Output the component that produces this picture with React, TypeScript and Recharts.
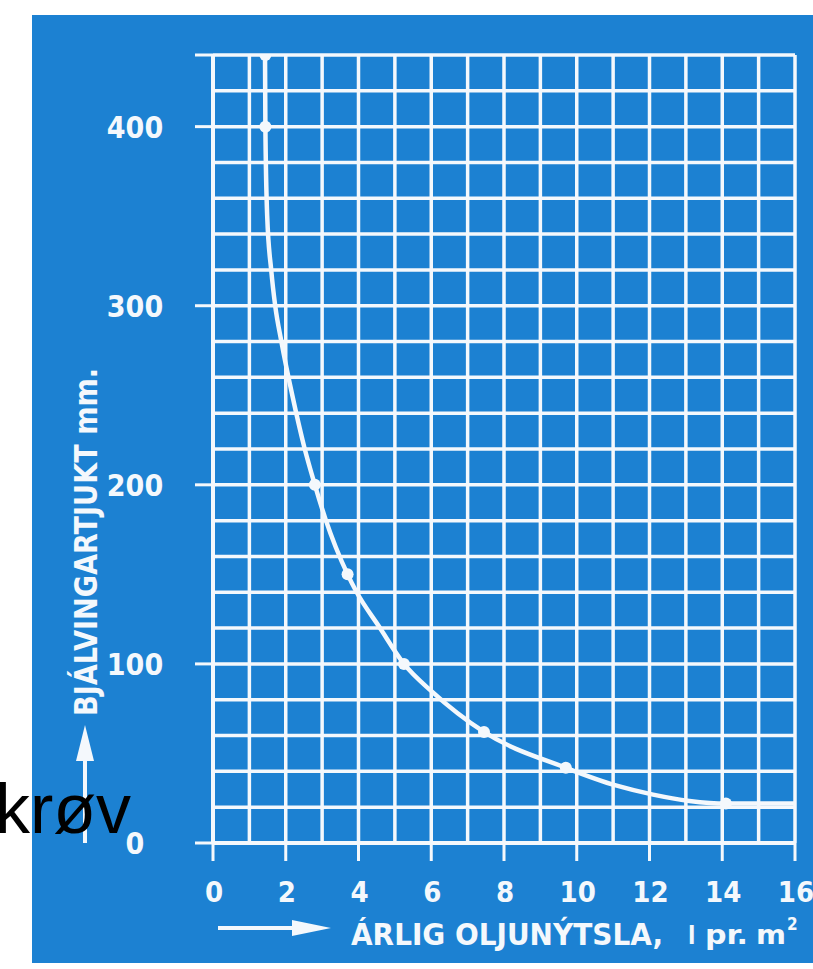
import React from 'react';
import { ComposedChart, Line, Scatter, XAxis, YAxis, CartesianGrid } from 'recharts';

// Curve (x: annual oil use l/m², y: insulation thickness mm)
const curveX = [1.43, 1.44, 1.49, 1.6, 1.71, 1.88, 2.18, 2.51, 2.8, 3.09, 3.7, 3.95, 4.56, 5.25, 6.02, 7.45, 9.7, 11.1, 12.1, 13.1, 14.1, 16.0];
const curveY = [440, 400, 350, 320, 300, 280, 250, 221, 200, 181, 150, 140, 121, 100, 84.5, 62, 42, 32, 27, 23.5, 22, 22];

// Marked points on the curve
const markerX = [1.44, 1.44, 2.8, 3.7, 5.25, 7.45, 9.7, 14.1];
const markerY = [440, 400, 200, 150, 100, 62, 42, 22];

// Axis ticks and grid values
const xTicks = [0, 2, 4, 6, 8, 10, 12, 14, 16];
const yTicks = [0, 100, 200, 300, 400, 440];
const yLabelled = [0, 100, 200, 300, 400];
const xGrid = [0, 1, 2, 3, 4, 5, 6, 7, 8, 9, 10, 11, 12, 13, 14, 15, 16];
const yGrid = [0, 20, 40, 60, 80, 100, 120, 140, 160, 180, 200, 220, 240, 260, 280, 300, 320, 340, 360, 380, 400, 420, 440];

const yTitle = 'BJÁLVINGARTJUKT mm.';
const xTitle = 'ÁRLIG OLJUNÝTSLA,';
const xUnitL = 'l';
const xUnitPr = 'pr.';
const xUnitM = 'm';
const xUnitSup = '2';
const sideText = 'krøv';

const curveData = curveX.map((x, i) => ({ x, y: curveY[i] }));
const markerData = markerX.map((x, i) => ({ x, y: markerY[i] }));

const BLUE = '#1c81d2';
const WHITE = '#f4f8fc';
const FONT = '"DejaVu Sans Condensed", "Liberation Sans Narrow", "DejaVu Sans", sans-serif';

const YTick = (props: any) => {
  const { y, payload } = props;
  if (!yLabelled.includes(payload.value)) return <g />;
  return (
    <text x={135} y={y} dy={11} textAnchor="middle" fill={WHITE} fontFamily={FONT} fontWeight="bold" fontSize={30}>
      {payload.value}
    </text>
  );
};

const XTick = (props: any) => {
  const { x, payload } = props;
  return (
    <text x={x + 1} y={902} textAnchor="middle" fill={WHITE} fontFamily={FONT} fontWeight="bold" fontSize={29}>
      {payload.value}
    </text>
  );
};

export default function App() {
  return (
    <div style={{ position: 'absolute', left: 0, top: 0, width: 813, height: 969, background: '#ffffff', overflow: 'hidden' }}>
      <div style={{ position: 'absolute', left: 32, top: 15, width: 781, height: 948, background: BLUE }} />
      <div style={{ position: 'absolute', left: 0, top: 0 }}>
        <ComposedChart width={813} height={969} margin={{ top: 55, right: 18, bottom: 0, left: 0 }}>
          <CartesianGrid
            stroke={WHITE}
            strokeWidth={3.5}
            horizontalValues={yGrid}
            verticalValues={xGrid}
          />
          <XAxis
            dataKey="x"
            type="number"
            domain={[0, 16]}
            ticks={xTicks}
            interval={0}
            height={126}
            tickSize={18}
            tickLine={{ stroke: WHITE, strokeWidth: 3 }}
            axisLine={{ stroke: WHITE, strokeWidth: 4 }}
            tick={<XTick />}
            allowDataOverflow
          />
          <YAxis
            dataKey="y"
            type="number"
            domain={[0, 440]}
            ticks={yTicks}
            interval={0}
            width={213}
            tickSize={18}
            tickLine={{ stroke: WHITE, strokeWidth: 3 }}
            axisLine={{ stroke: WHITE, strokeWidth: 4 }}
            tick={<YTick />}
            allowDataOverflow
          />
          <Line
            data={curveData}
            dataKey="y"
            type="monotone"
            stroke={WHITE}
            strokeWidth={4.5}
            dot={false}
            activeDot={false}
            isAnimationActive={false}
          />
          <Scatter
            data={markerData}
            dataKey="y"
            fill={WHITE}
            shape={(p: any) => <circle cx={p.cx} cy={p.cy} r={6} fill={WHITE} />}
            isAnimationActive={false}
          />
        </ComposedChart>
      </div>
      <svg width={813} height={969} style={{ position: 'absolute', left: 0, top: 0, pointerEvents: 'none' }}>
        {/* y-axis title with arrow */}
        <text
          transform="translate(97,542) rotate(-90)"
          textAnchor="middle"
          fill={WHITE}
          fontFamily={FONT}
          fontWeight="bold"
          fontSize={32}
          textLength={348}
          lengthAdjust="spacingAndGlyphs"
        >
          {yTitle}
        </text>
        <line x1={85} y1={843} x2={85} y2={755} stroke={WHITE} strokeWidth={4} />
        <polygon points="85,725 76,761 94,761" fill={WHITE} />
        {/* x-axis title with arrow */}
        <line x1={218} y1={928} x2={298} y2={928} stroke={WHITE} strokeWidth={4} />
        <polygon points="331,928 292,920 292,936" fill={WHITE} />
        <text
          x={351}
          y={945}
          fill={WHITE}
          fontFamily={FONT}
          fontWeight="bold"
          fontSize={30}
          textLength={312}
          lengthAdjust="spacingAndGlyphs"
        >
          {xTitle}
        </text>
        <text x={688} y={944} fill={WHITE} fontFamily={FONT} fontWeight="bold" fontSize={24}>{xUnitL}</text>
        <text x={705} y={944} fill={WHITE} fontFamily={FONT} fontWeight="bold" fontSize={26} textLength={43} lengthAdjust="spacingAndGlyphs">{xUnitPr}</text>
        <text x={756} y={944} fill={WHITE} fontFamily={FONT} fontWeight="bold" fontSize={26} textLength={30} lengthAdjust="spacingAndGlyphs">{xUnitM}</text>
        <text x={787} y={930} fill={WHITE} fontFamily={FONT} fontWeight="bold" fontSize={17}>{xUnitSup}</text>
        {/* overlapping black text */}
        <text x={-5} y={833} fill="#000000" fontFamily='"Liberation Sans", Arial, sans-serif' fontSize={70}>
          {sideText}
        </text>
      </svg>
    </div>
  );
}
